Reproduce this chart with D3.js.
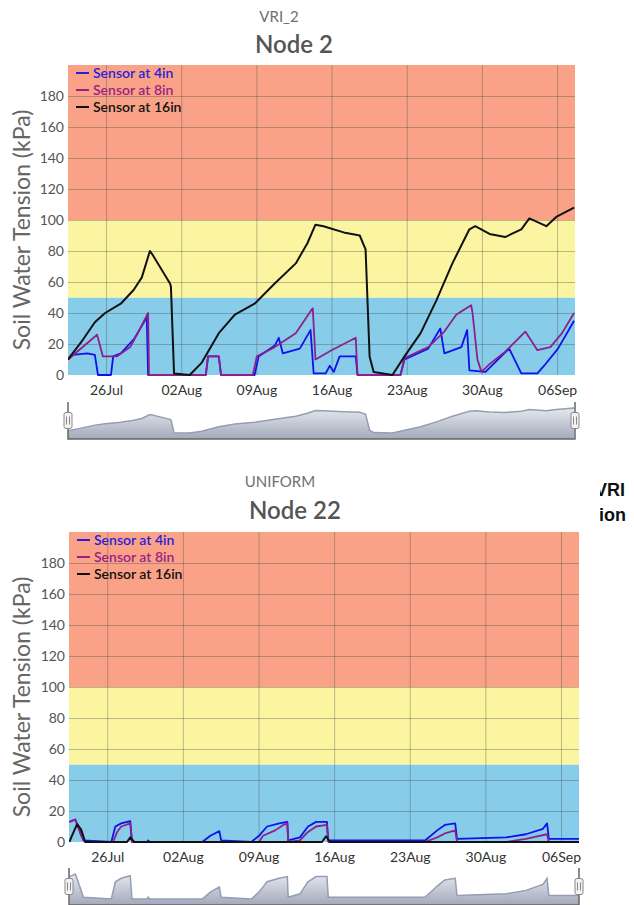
<!DOCTYPE html>
<html>
<head>
<meta charset="utf-8">
<script src="https://cdn.jsdelivr.net/npm/d3@7"></script>
<style>
  body { margin: 0; background: #fff; }
  svg { display: block; font-family: Lato, "Open Sans", sans-serif; }
</style>
</head>
<body>
<svg id="chart" width="634" height="905"></svg>
<script>
// time domain of both panels
const domainStart = '07-22 11';
const domainEnd = '09-07 16';
const weekTicks = ['07-26', '08-02', '08-09', '08-16', '08-23', '08-30', '09-06'];
const yTicks = [0, 20, 40, 60, 80, 100, 120, 140, 160, 180];

// threshold bands [from, to, colour]
const bands = [
  [0, 50, '#87cdea'],
  [50, 100, '#fbf5a2'],
  [100, 200, '#f9a287'],
];

const legendNames = ['Sensor at 4in', 'Sensor at 8in', 'Sensor at 16in'];
const seriesColors = ['#1010f0', '#8e1f8e', '#111111'];
const legendColors = ['#2a1fd9', '#9b1f86', '#111111'];

// Node 2 (VRI_2)
const node2at4 = [
  ['07-22 11', 10], ['07-22 22', 13], ['07-24 06', 14], ['07-24 23', 13], ['07-25 06', 0],
  ['07-26 11', 0], ['07-26 16', 12], ['07-27 09', 14], ['07-28 14', 23], ['07-29 19', 37],
  ['07-29 22', 0], ['08-04 07', 0], ['08-04 12', 12], ['08-05 12', 12], ['08-05 17', 0],
  ['08-08 20', 0], ['08-09 05', 12], ['08-10 17', 19], ['08-11 02', 24], ['08-11 11', 14],
  ['08-13 01', 17], ['08-13 23', 28], ['08-14 01', 29], ['08-14 08', 1], ['08-15 11', 1],
  ['08-15 20', 6], ['08-16 05', 2], ['08-16 18', 12], ['08-18 06', 12], ['08-18 10', 0],
  ['08-22 10', 0], ['08-22 19', 10], ['08-25 00', 17], ['08-26 03', 30], ['08-26 12', 14],
  ['08-28 02', 18], ['08-28 15', 29], ['08-28 20', 3], ['08-30 08', 2], ['08-31 19', 12],
  ['09-01 13', 17], ['09-02 16', 1], ['09-04 04', 1], ['09-04 19', 6], ['09-06 02', 17],
  ['09-07 14', 35],
];
const node2at8 = [
  ['07-22 11', 10], ['07-25 04', 26], ['07-25 17', 12], ['07-27 00', 12], ['07-28 06', 18],
  ['07-28 23', 27], ['07-29 22', 40], ['07-30 00', 0], ['08-04 07', 0], ['08-04 12', 12],
  ['08-05 12', 12], ['08-05 17', 0], ['08-08 16', 0], ['08-09 01', 12], ['08-10 17', 18],
  ['08-12 16', 27], ['08-14 03', 42], ['08-14 06', 43], ['08-14 12', 10], ['08-16 00', 16],
  ['08-18 06', 24], ['08-18 10', 0], ['08-22 10', 0], ['08-22 19', 11], ['08-25 00', 18],
  ['08-26 12', 28], ['08-27 15', 39], ['08-29 00', 45], ['08-29 03', 40], ['08-29 14', 10],
  ['08-29 23', 2], ['08-30 17', 7], ['09-01 04', 15], ['09-03 01', 28], ['09-04 04', 16],
  ['09-05 09', 18], ['09-06 11', 27], ['09-07 14', 40],
];
const node2at16 = [
  ['07-22 11', 10], ['07-23 16', 21], ['07-24 23', 34], ['07-25 22', 40], ['07-27 09', 46],
  ['07-28 14', 55], ['07-29 08', 63], ['07-30 02', 80], ['07-30 07', 78], ['07-31 23', 59],
  ['08-01 01', 57], ['08-01 08', 1], ['08-02 19', 0], ['08-03 22', 8], ['08-05 12', 27],
  ['08-07 00', 39], ['08-08 20', 46], ['08-10 17', 59], ['08-12 16', 72], ['08-13 18', 85],
  ['08-14 12', 97], ['08-15 06', 96], ['08-17 03', 92], ['08-18 15', 90], ['08-19 04', 81],
  ['08-19 13', 12], ['08-19 22', 2], ['08-21 16', 0], ['08-22 19', 12], ['08-24 07', 27],
  ['08-25 18', 48], ['08-27 06', 72], ['08-28 20', 94], ['08-29 09', 96], ['08-30 17', 91],
  ['09-01 04', 89], ['09-02 16', 94], ['09-03 10', 101], ['09-05 00', 96], ['09-05 22', 102],
  ['09-07 14', 108],
];

// Node 22 (UNIFORM)
const node22at4 = [
  ['07-22 12', 13], ['07-23 01', 14.5], ['07-23 10', 8], ['07-23 19', 1], ['07-26 09', 0],
  ['07-26 18', 10], ['07-27 07', 12], ['07-28 03', 13.5], ['07-28 07', 0], ['07-29 16', 0],
  ['07-29 19', 1], ['07-29 22', 0], ['08-03 19', 0], ['08-04 13', 4], ['08-05 09', 7],
  ['08-05 13', 1], ['08-08 08', 0], ['08-09 01', 4], ['08-09 19', 10], ['08-10 22', 12],
  ['08-11 16', 13], ['08-11 18', 1], ['08-12 20', 3], ['08-13 14', 10], ['08-14 08', 13],
  ['08-15 08', 13], ['08-15 11', 1], ['08-24 10', 1], ['08-25 13', 7.5], ['08-26 06', 11],
  ['08-27 05', 12], ['08-27 09', 2], ['08-31 22', 3], ['09-02 18', 5], ['09-04 08', 8.5],
  ['09-04 17', 12], ['09-04 21', 2], ['09-07 18', 2],
];
const node22at8 = [
  ['07-22 12', 13], ['07-23 01', 14.5], ['07-23 14', 4], ['07-23 23', 0], ['07-26 13', 0],
  ['07-26 22', 6.5], ['07-27 07', 10], ['07-28 03', 12], ['07-28 07', 0], ['08-09 01', 0],
  ['08-09 10', 4], ['08-10 13', 7.5], ['08-11 07', 11], ['08-11 16', 12], ['08-11 18', 0],
  ['08-12 20', 1], ['08-13 14', 6.5], ['08-14 08', 10], ['08-15 08', 11], ['08-15 11', 0],
  ['08-24 10', 0], ['08-25 13', 3], ['08-26 06', 5.5], ['08-27 05', 7.5], ['08-27 09', 0],
  ['08-31 22', 0], ['09-02 18', 2], ['09-04 17', 5], ['09-04 21', 0], ['09-07 18', 0],
];
const node22at16 = [
  ['07-22 12', 0], ['07-22 16', 3], ['07-23 05', 11.5], ['07-23 14', 8], ['07-23 23', 0],
  ['07-27 20', 0], ['07-28 03', 3], ['07-28 12', 0], ['08-14 21', 0], ['08-15 06', 3.7],
  ['08-15 15', 0], ['09-07 18', 0],
];

const parse = d3.timeParse('%Y-%m-%d %H');
const parseDay = d3.timeParse('%Y-%m-%d');
const toPoints = arr => arr.map(([t, v]) => ({ t: parse('2021-' + t), v }));

const svg = d3.select('#chart');
const defs = svg.append('defs');

const navGrad = defs.append('linearGradient')
  .attr('id', 'navGrad').attr('x1', 0).attr('y1', 0).attr('x2', 0).attr('y2', 1);
navGrad.append('stop').attr('offset', '0%').attr('stop-color', '#e6e8ef');
navGrad.append('stop').attr('offset', '100%').attr('stop-color', '#a3a9ba');

function drawPanel(cfg) {
  const x = d3.scaleTime()
    .domain([parse('2021-' + domainStart), parse('2021-' + domainEnd)])
    .range([cfg.left, cfg.right]);
  const y = d3.scaleLinear().domain([0, 200]).range([cfg.bottom, cfg.top]);
  const g = svg.append('g').attr('class', 'panel-' + cfg.id);

  // titles
  g.append('text')
    .attr('x', cfg.subX).attr('y', cfg.subY)
    .attr('text-anchor', 'middle')
    .style('font-size', '15px').style('fill', '#707070')
    .text(cfg.subtitle);
  g.append('text')
    .attr('x', cfg.titleX).attr('y', cfg.titleY)
    .attr('text-anchor', 'middle')
    .style('font-size', '24px').style('font-weight', 600).style('fill', '#555')
    .text(cfg.title);

  // bands
  g.append('g').attr('class', 'bands')
    .selectAll('rect')
    .data(bands)
    .join('rect')
    .attr('x', cfg.left)
    .attr('width', cfg.right - cfg.left)
    .attr('y', d => y(d[1]))
    .attr('height', d => y(d[0]) - y(d[1]))
    .style('fill', d => d[2]);

  // grids
  const ticks = weekTicks.map(d => parseDay('2021-' + d));
  const grid = g.append('g').attr('class', 'grid');
  grid.append('g').attr('class', 'grid--x')
    .attr('transform', `translate(0, ${cfg.bottom})`)
    .call(d3.axisBottom(x).tickValues(ticks).tickSize(-(cfg.bottom - cfg.top)).tickFormat(''))
    .call(s => s.select('.domain').remove())
    .call(s => s.selectAll('line').style('stroke', 'rgba(70,70,70,0.35)'));
  grid.append('g').attr('class', 'grid--y')
    .attr('transform', `translate(${cfg.left}, 0)`)
    .call(d3.axisLeft(y).tickValues(yTicks.slice(1)).tickSize(-(cfg.right - cfg.left)).tickFormat(''))
    .call(s => s.select('.domain').remove())
    .call(s => s.selectAll('line').style('stroke', 'rgba(70,70,70,0.35)'));

  // axes labels
  const axis = g.append('g').attr('class', 'axis');
  axis.append('g').attr('class', 'axis--x')
    .attr('transform', `translate(0, ${cfg.bottom})`)
    .call(d3.axisBottom(x).tickValues(ticks).tickSize(0).tickPadding(10).tickFormat(d3.timeFormat('%d%b')))
    .call(s => s.select('.domain').remove())
    .call(s => s.selectAll('text').style('font-family', 'Lato').style('font-size', '14px').style('fill', '#333'));
  axis.append('g').attr('class', 'axis--y')
    .attr('transform', `translate(${cfg.left}, 0)`)
    .call(d3.axisLeft(y).tickValues(yTicks).tickSize(0).tickPadding(4))
    .call(s => s.select('.domain').remove())
    .call(s => s.selectAll('text').style('font-family', 'Lato').style('font-size', '14px').style('fill', '#555'));

  g.append('text')
    .attr('transform', `translate(${cfg.yTitleX}, ${(cfg.top + cfg.bottom) / 2 + 10}) rotate(-90)`)
    .attr('text-anchor', 'middle')
    .attr('dy', '0.35em')
    .style('font-size', '23px').style('fill', '#666')
    .text('Soil Water Tension (kPa)');

  // series
  defs.append('clipPath').attr('id', 'clip-' + cfg.id)
    .append('rect')
    .attr('x', cfg.left).attr('y', cfg.top)
    .attr('width', cfg.right - cfg.left).attr('height', cfg.bottom - cfg.top + 2);

  const line = d3.line().x(d => x(d.t)).y(d => y(d.v));
  g.append('g').attr('class', 'series')
    .attr('clip-path', `url(#clip-${cfg.id})`)
    .selectAll('path')
    .data(cfg.series.map(toPoints))
    .join('path')
    .attr('d', line)
    .style('fill', 'none')
    .style('stroke', (d, i) => seriesColors[i])
    .style('stroke-width', (d, i) => (i === 2 ? 2 : 1.8))
    .style('stroke-linejoin', 'round');

  // legend
  const legend = g.append('g').attr('class', 'legend')
    .selectAll('g')
    .data(legendNames)
    .join('g')
    .attr('transform', (d, i) => `translate(${cfg.left + 8}, ${cfg.top + 8 + i * 17})`);
  legend.append('line')
    .attr('x1', 0).attr('x2', 13)
    .style('stroke', (d, i) => legendColors[i]).style('stroke-width', 2);
  legend.append('text')
    .attr('x', 17).attr('dy', '0.35em')
    .style('font-size', '14px').style('font-weight', 600)
    .style('fill', (d, i) => legendColors[i])
    .text(d => d);

  // navigator
  const navPts = toPoints(cfg.nav);
  const ny = d3.scaleLinear()
    .domain(d3.extent(navPts, d => d.v))
    .range([cfg.navBottom - 6, cfg.navTop + 6]);
  const nav = g.append('g').attr('class', 'navigator')
    .attr('clip-path', `url(#navclip-${cfg.id})`);
  defs.append('clipPath').attr('id', 'navclip-' + cfg.id)
    .append('rect')
    .attr('x', cfg.left).attr('y', cfg.navTop - 2)
    .attr('width', cfg.right - cfg.left).attr('height', cfg.navBottom - cfg.navTop + 2);
  nav.append('path')
    .datum(navPts)
    .attr('d', d3.area().x(d => x(d.t)).y0(cfg.navBottom).y1(d => ny(d.v)))
    .style('fill', 'url(#navGrad)');
  nav.append('path')
    .datum(navPts)
    .attr('d', d3.line().x(d => x(d.t)).y(d => ny(d.v)))
    .style('fill', 'none').style('stroke', '#949db4').style('stroke-width', 1.5);

  g.append('path')
    .attr('d', `M${cfg.left},${cfg.navTop}V${cfg.navBottom}H${cfg.right}V${cfg.navTop}`)
    .style('fill', 'none').style('stroke', '#666').style('stroke-width', 1.5);

  const hy = (cfg.navTop + cfg.navBottom) / 2;
  const handles = g.append('g').attr('class', 'handles')
    .selectAll('g')
    .data([cfg.left, cfg.right])
    .join('g')
    .attr('transform', d => `translate(${d}, ${hy})`);
  handles.append('rect')
    .attr('x', -4).attr('y', -8).attr('width', 8).attr('height', 16).attr('rx', 2)
    .style('fill', '#f2f2f2').style('stroke', '#888');
  handles.append('path')
    .attr('d', 'M-1.5,-4V4M1.5,-4V4')
    .style('stroke', '#888');
}

drawPanel({
  id: 'n2', subtitle: 'VRI_2', title: 'Node 2',
  subX: 279, subY: 22, titleX: 294, titleY: 53,
  left: 68, right: 575, top: 65, bottom: 375, yTitleX: 22,
  navTop: 402, navBottom: 439,
  series: [node2at4, node2at8, node2at16], nav: node2at16,
});

drawPanel({
  id: 'n22', subtitle: 'UNIFORM', title: 'Node 22',
  subX: 280, subY: 487, titleX: 295, titleY: 519,
  left: 69, right: 579, top: 532, bottom: 842, yTitleX: 22,
  navTop: 868, navBottom: 905,
  series: [node22at4, node22at8, node22at16], nav: node22at4,
});

// fragments of page text cut by the right edge of the frame
defs.append('clipPath').attr('id', 'clip-side')
  .append('rect').attr('x', 600).attr('y', 460).attr('width', 40).attr('height', 80);
svg.append('g').attr('clip-path', 'url(#clip-side)')
  .selectAll('text')
  .data([['VRI', 496, 625], ['ion', 521, 626]])
  .join('text')
  .attr('x', d => d[2]).attr('y', d => d[1])
  .attr('text-anchor', 'end')
  .style('font-family', '"Liberation Sans", Arial, sans-serif')
  .style('font-size', '18px').style('font-weight', 'bold').style('fill', '#111')
  .text(d => d[0]);
</script>
</body>
</html>
